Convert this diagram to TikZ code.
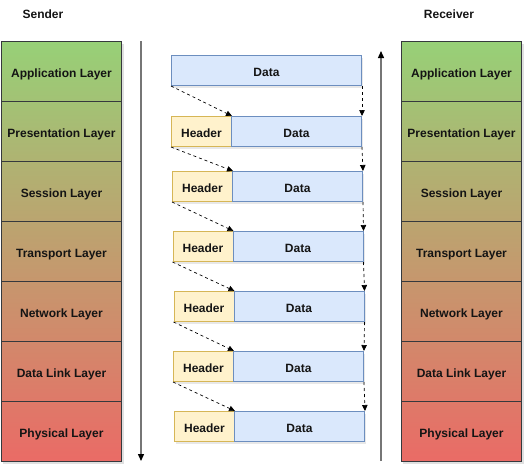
\documentclass[tikz,border=0pt]{standalone}
\usepackage{fontspec}
\setmainfont{Liberation Sans}
\usetikzlibrary{arrows.meta,shadows}
\definecolor{topc}{RGB}{151,208,119}
\definecolor{botc}{RGB}{234,107,102}
\definecolor{hdrF}{RGB}{255,242,204}
\definecolor{hdrB}{RGB}{214,182,86}
\definecolor{datF}{RGB}{218,232,252}
\definecolor{datB}{RGB}{108,142,191}
\definecolor{flowc}{RGB}{118,118,118}
\definecolor{edgec}{RGB}{54,57,61}
\definecolor{txt}{RGB}{20,20,20}
\begin{document}
\begin{tikzpicture}[x=1pt,y=-1pt,
  bf/.style={font=\bfseries\fontsize{12}{14}\selectfont, text=txt, text height=12.4pt, text depth=0pt},
  shad/.style={drop shadow={opacity=0.18, shadow xshift=1.5pt, shadow yshift=-2.5pt}},
  layer/.style 2 args={bf, draw=edgec, line width=1pt, top color=botc!#1!topc, bottom color=botc!#2!topc,
     minimum width=120pt, minimum height=60pt, inner sep=0pt, anchor=north west},
  hdr/.style={bf, draw=hdrB, fill=hdrF, line width=1pt, minimum width=60pt, minimum height=30pt, inner sep=0pt, anchor=north west, shad},
  dat/.style={bf, draw=datB, fill=datF, line width=1pt, minimum width=130pt, minimum height=30pt, inner sep=0pt, anchor=north west, shad},
  flow/.style={draw=flowc, line width=1.3pt, -{Triangle[length=7pt,width=6pt,color=black]}},
  hop/.style={draw=black, line width=0.7pt, dash pattern=on 3pt off 3pt, -{Triangle[length=6pt,width=5.5pt,color=black]}}
]
\useasboundingbox (0,0) rectangle (527,475);

% titles
\node[bf] (sender) at (43,12) {Sender};
\node[bf] (receiver) at (449,12) {Receiver};

% shadows for stacks
\fill[black, opacity=0.12] (2.5,43.5) rectangle (123.5,463.5);
\fill[black, opacity=0.12] (402.5,43.5) rectangle (523.5,463.5);

% sender stack
\node[layer={0}{14}]  (s1) at (1,41)  {Application Layer};
\node[layer={14}{29}] (s2) at (1,101) {Presentation Layer};
\node[layer={29}{43}] (s3) at (1,161) {Session Layer};
\node[layer={43}{57}] (s4) at (1,221) {Transport Layer};
\node[layer={57}{71}] (s5) at (1,281) {Network Layer};
\node[layer={71}{86}] (s6) at (1,341) {Data Link Layer};
\node[layer={86}{100}](s7) at (1,401) {Physical Layer};

% receiver stack
\node[layer={0}{14}]  (r1) at (401,41)  {Application Layer};
\node[layer={14}{29}] (r2) at (401,101) {Presentation Layer};
\node[layer={29}{43}] (r3) at (401,161) {Session Layer};
\node[layer={43}{57}] (r4) at (401,221) {Transport Layer};
\node[layer={57}{71}] (r5) at (401,281) {Network Layer};
\node[layer={71}{86}] (r6) at (401,341) {Data Link Layer};
\node[layer={86}{100}](r7) at (401,401) {Physical Layer};

% flow arrows
\coordinate (st) at (141,41);
\coordinate (sb) at (141,461);
\coordinate (rb) at (381,461);
\coordinate (rt) at (381,51);
\draw[flow] (st) -- (sb);
\draw[flow] (rb) -- (rt);

% packets
\node[dat, minimum width=190pt] (d0) at (171,55) {Data};
\node[hdr] (h1) at (171,116) {Header};
\node[dat] (d1) at (231,116) {Data};
\node[hdr] (h2) at (172,171) {Header};
\node[dat] (d2) at (232,171) {Data};
\node[hdr] (h3) at (172.5,231) {Header};
\node[dat] (d3) at (232.5,231) {Data};
\node[hdr] (h4) at (173.5,291) {Header};
\node[dat] (d4) at (233.5,291) {Data};
\node[hdr] (h5) at (173,351) {Header};
\node[dat] (d5) at (233,351) {Data};
\node[hdr] (h6) at (174,411) {Header};
\node[dat] (d6) at (234,411) {Data};

% encapsulation hops
\draw[hop] (d0.south west) -- (h1.north east);
\draw[hop] (h1.south west) -- (h2.north east);
\draw[hop] (h2.south west) -- (h3.north east);
\draw[hop] (h3.south west) -- (h4.north east);
\draw[hop] (h4.south west) -- (h5.north east);
\draw[hop] (h5.south west) -- (h6.north east);

% right side hops
\draw[hop] (d0.south east) -- (d1.north east);
\draw[hop] (d1.south east) -- (d2.north east);
\draw[hop] (d2.south east) -- (d3.north east);
\draw[hop] (d3.south east) -- (d4.north east);
\draw[hop] (d4.south east) -- (d5.north east);
\draw[hop] (d5.south east) -- (d6.north east);
\end{tikzpicture}
\end{document}
